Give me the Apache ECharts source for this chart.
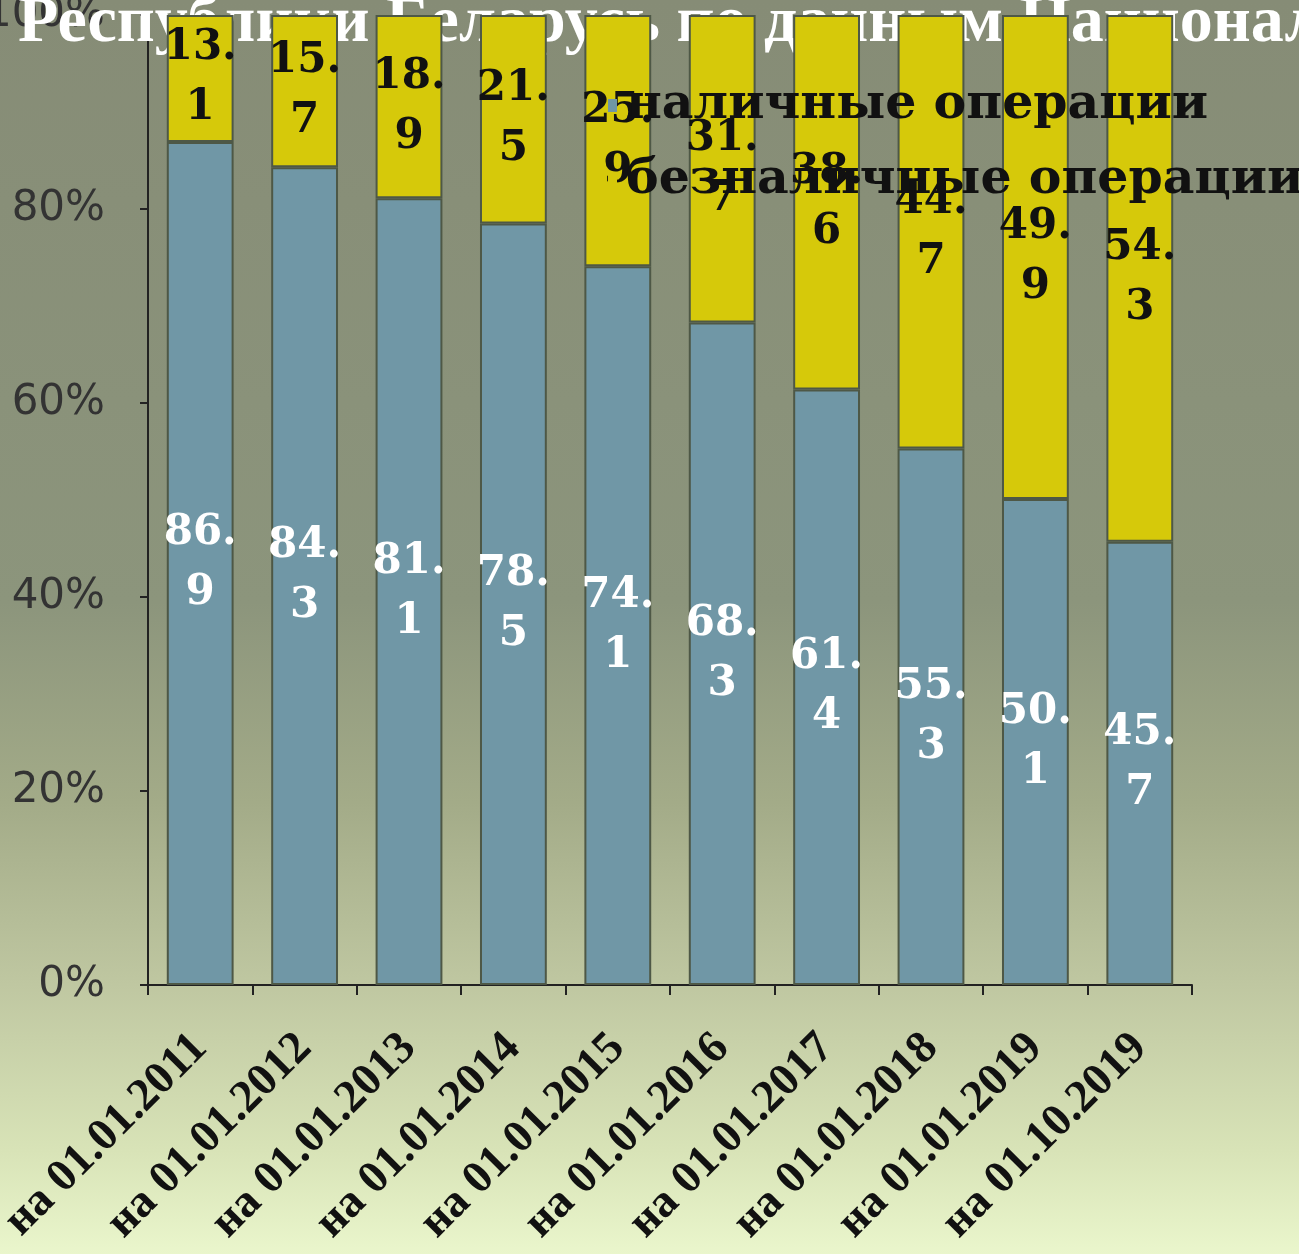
<!DOCTYPE html>
<html>
<head>
<meta charset="utf-8">
<script src="https://cdn.jsdelivr.net/npm/echarts@6/dist/echarts.min.js"></script>
<style>
html,body{margin:0;padding:0;background:#868c76;}
#chart{width:1299px;height:1254px;}
</style>
</head>
<body>
<div id="chart"></div>
<script>
const categories = ['на 01.01.2011','на 01.01.2012','на 01.01.2013','на 01.01.2014','на 01.01.2015','на 01.01.2016','на 01.01.2017','на 01.01.2018','на 01.01.2019','на 01.10.2019'];
const cashValues = [86.9, 84.3, 81.1, 78.5, 74.1, 68.3, 61.4, 55.3, 50.1, 45.7];
const cashlessValues = [13.1, 15.7, 18.9, 21.5, 25.9, 31.7, 38.6, 44.7, 49.9, 54.3];
const seriesNames = ['наличные операции', 'безналичные операции'];
const yTicks = [0, 20, 40, 60, 80, 100];
const titleText = 'Республики Беларусь по данным Национального банка';

const chart = echarts.init(document.getElementById('chart'), null, {renderer: 'canvas'});
const splitLabel = v => String(v).replace('.', '.\n');

const option = {
  backgroundColor: {
    type: 'linear', x: 0, y: 0, x2: 0, y2: 1,
    colorStops: [
      {offset: 0, color: '#868c76'},
      {offset: 0.48, color: '#8c957c'},
      {offset: 0.64, color: '#a3ab88'},
      {offset: 0.785, color: '#bfc7a1'},
      {offset: 0.917, color: '#d8e3b7'},
      {offset: 1, color: '#eaf6cc'}
    ]
  },
  animation: false,
  title: {
    text: titleText,
    left: 18, top: -9, z: 1, padding: 0,
    textStyle: {fontFamily: 'Liberation Serif', fontWeight: 'bold', fontSize: 66, color: '#ffffff'}
  },
  legend: {
    orient: 'vertical',
    left: 603, top: 76,
    itemWidth: 9, itemHeight: 13, itemGap: 26,
    icon: 'rect',
    itemStyle: {borderWidth: 0},
    data: seriesNames,
    textStyle: {fontFamily: 'DejaVu Serif', fontWeight: 'bold', fontSize: 49, color: '#111111', padding: [0,0,0,4]}
  },
  grid: {left: 148, right: 107, top: 15, bottom: 269, containLabel: false, outerBoundsMode: 'none'},
  xAxis: {
    type: 'category',
    data: categories,
    axisLine: {show: true, lineStyle: {color: '#222222', width: 2}},
    axisTick: {show: true, alignWithLabel: false, length: 10, lineStyle: {color: '#222222', width: 2}},
    axisLabel: {interval: 0, rotate: 45, margin: 56, fontFamily: 'Liberation Serif', fontWeight: 'bold', fontSize: 46, color: '#111111'}
  },
  yAxis: {
    type: 'value', min: 0, max: 100, interval: 20,
    axisLine: {show: true, lineStyle: {color: '#222222', width: 2}},
    axisTick: {show: true, length: 8, lineStyle: {color: '#222222', width: 2}},
    splitLine: {show: false},
    axisLabel: {formatter: v => yTicks.includes(v) ? v + '%' : '', margin: 43, fontFamily: 'DejaVu Sans', fontSize: 42, color: '#333333'}
  },
  series: [
    {
      name: seriesNames[0], type: 'bar', stack: 'total', data: cashValues,
      barCategoryGap: '36%',
      itemStyle: {color: '#7097a6', borderColor: '#4e5846', borderWidth: 2},
      label: {show: true, position: 'inside', formatter: p => splitLabel(p.value),
        fontFamily: 'DejaVu Serif', fontWeight: 'bold', fontSize: 42, lineHeight: 60, color: '#ffffff', align: 'center'}
    },
    {
      name: seriesNames[1], type: 'bar', stack: 'total', data: cashlessValues,
      barCategoryGap: '36%',
      itemStyle: {color: '#d6c90a', borderColor: '#4e5846', borderWidth: 2},
      label: {show: true, position: 'inside', formatter: p => splitLabel(p.value),
        fontFamily: 'DejaVu Serif', fontWeight: 'bold', fontSize: 42, lineHeight: 60, color: '#111111', align: 'center'}
    }
  ]
};
chart.setOption(option);
</script>
</body>
</html>
